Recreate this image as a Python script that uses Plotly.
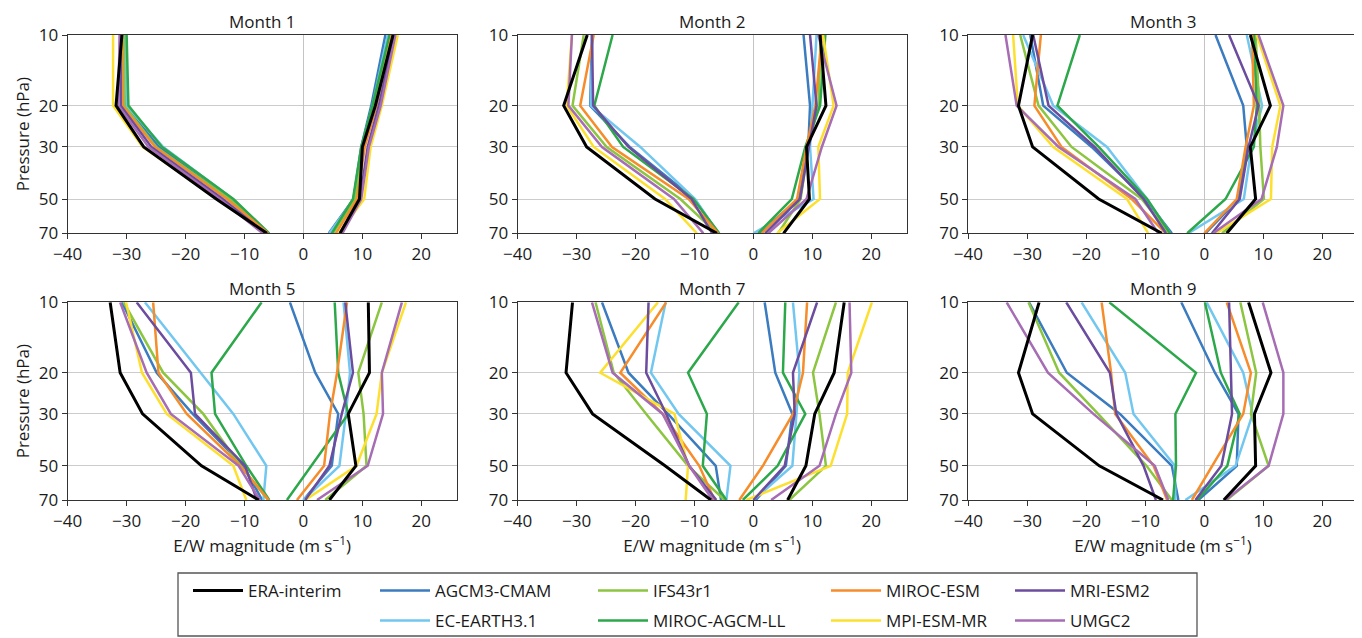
import plotly.graph_objects as go
from plotly.subplots import make_subplots
import math

# ---------------- data ----------------
months = ["Month 1", "Month 2", "Month 3", "Month 5", "Month 7", "Month 9"]
pressure = [10, 20, 30, 50, 70]
models = ["ERA-interim", "AGCM3-CMAM", "EC-EARTH3.1", "IFS43r1", "MIROC-AGCM-LL",
          "MIROC-ESM", "MPI-ESM-MR", "MRI-ESM2", "UMGC2"]
colors = ["#000000", "#3b7bbf", "#72c7f0", "#8cc540", "#2ca84b",
          "#f68c2a", "#fde02e", "#6b4c9e", "#a66cb4"]

# easterly (negative) magnitudes, one row per month, values at 10,20,30,50,70 hPa
ERA_E = [[-30.8, -31.8, -27.1, -14.8, -6.2], [-28.2, -32.2, -28.3, -16.7, -6.2],
         [-29.1, -31.5, -29.1, -17.9, -7.2], [-32.8, -31.1, -27.3, -17.3, -7.6],
         [-30.7, -31.8, -27.3, -15.0, -7.2], [-28.0, -31.5, -29.1, -17.8, -7.0]]
AGCM_E = [[-30.4, -30.3, -24.5, -12.3, -6.0], [-27.4, -27.7, -21.0, -10.0, -6.0],
          [-29.5, -27.3, -19.1, -10.0, -5.5], [-30.8, -24.9, -18.8, -10.2, -7.0],
          [-25.7, -21.2, -14.5, -6.4, -5.5], [-29.7, -23.3, -14.3, -5.5, -4.4]]
ECE_E = [[-30.3, -30.0, -23.8, -12.0, -5.9], [-27.3, -27.6, -19.2, -9.9, -6.0],
         [-30.7, -25.6, -16.5, -9.7, -5.8], [-26.9, -17.5, -11.9, -6.3, -6.8],
         [-14.9, -17.4, -12.7, -3.9, -4.6], [-20.8, -13.4, -12.0, -5.0, -4.9]]
IFS_E = [[-30.5, -30.4, -25.0, -12.6, -6.1], [-28.8, -30.7, -24.9, -12.4, -6.2],
         [-31.2, -28.1, -22.5, -10.6, -6.0], [-30.5, -23.8, -17.0, -10.7, -6.0],
         [-26.8, -23.7, -18.2, -11.1, -4.9], [-29.8, -24.6, -18.0, -9.8, -5.5]]
MAGCM_E = [[-30.0, -29.7, -24.0, -11.9, -5.8], [-23.9, -27.0, -22.1, -10.2, -5.8],
           [-21.1, -24.9, -17.9, -9.7, -5.8], [-7.1, -15.6, -15.0, -9.7, -5.8],
           [-2.5, -11.1, -7.9, -8.6, -4.6], [-16.1, -1.4, -4.9, -4.8, -5.3]]
MESM_E = [[-30.8, -30.7, -25.2, -13.0, -6.0], [-27.1, -29.4, -24.0, -11.0, -6.0],
          [-27.7, -28.8, -24.2, -12.3, -6.5], [-25.5, -24.6, -19.8, -10.7, -5.9],
          [-14.8, -22.6, -15.4, -9.2, -6.6], [-17.4, -15.8, -15.1, -8.6, -6.3]]
MPI_E = [[-32.3, -32.3, -27.3, -14.5, -6.3], [-30.8, -31.7, -27.1, -15.0, -9.6],
         [-32.4, -31.6, -25.6, -13.1, -9.5], [-30.1, -27.4, -23.2, -11.9, -9.7],
         [-16.2, -26.0, -13.4, -11.1, -11.5], None]
MRI_E = [[-31.0, -31.0, -25.8, -13.7, -6.5], [-27.4, -27.2, -21.2, -10.5, -7.0],
         [-29.0, -26.4, -18.6, -10.3, -6.5], [-28.3, -19.1, -18.4, -9.9, -7.9],
         [-17.8, -18.2, -14.8, -10.9, -6.3], [-23.4, -16.0, -14.9, -10.3, -8.2]]
UMGC_E = [[-31.2, -31.4, -26.3, -14.2, -6.9], [-30.8, -31.4, -25.7, -13.5, -8.5],
          [-33.7, -31.8, -24.7, -11.7, -7.8], [-31.1, -26.6, -22.5, -11.0, -7.4],
          [-27.4, -23.9, -15.4, -10.9, -6.9], [-33.5, -26.5, -18.8, -8.4, -6.1]]

# westerly (positive) magnitudes
ERA_W = [[15.2, 12.2, 10.0, 9.5, 6.2], [11.3, 12.3, 9.0, 9.5, 5.1],
         [7.8, 11.2, 7.8, 8.7, 3.8], [11.0, 11.2, 7.6, 8.9, 4.4],
         [15.4, 13.7, 10.4, 8.9, 5.8], [7.5, 11.3, 8.5, 8.7, 3.3]]
AGCM_W = [[13.9, 11.5, 9.8, 8.5, 4.3], [8.5, 9.6, 9.3, 7.7, 1.0],
          [1.9, 6.6, 7.2, 5.8, 0.2], [-2.3, 2.0, 5.9, 4.8, 0.0],
          [1.9, 3.7, 6.6, 5.5, 0.4], [-3.9, 1.8, 5.8, 5.5, -1.0]]
ECE_W = [[14.3, 11.7, 9.9, 8.6, 4.4], [10.7, 10.0, 9.6, 10.2, 0.0],
         [7.2, 9.8, 8.0, 6.7, -2.7], [6.8, 7.9, 7.2, 6.1, 0.0],
         [6.7, 7.8, 7.3, 6.6, 0.0], [0.4, 6.6, 8.2, 5.3, -3.2]]
IFS_W = [[14.8, 12.0, 10.2, 8.8, 5.0], [11.5, 11.0, 9.3, 8.0, 4.2],
         [8.7, 9.3, 9.5, 10.1, 3.0], [13.3, 9.3, 10.2, 10.7, 3.7],
         [14.0, 10.1, 11.2, 12.3, 6.1], [6.1, 8.8, 7.9, 10.9, 3.8]]
MAGCM_W = [[14.6, 11.7, 9.8, 8.4, 4.8], [12.2, 11.3, 8.8, 6.5, 0.8],
           [8.4, 8.9, 8.4, 3.6, -2.9], [5.3, 5.9, 7.6, 1.4, -2.8],
           [5.4, 5.0, 8.8, 4.1, -1.8], [0.1, 2.8, 6.0, 3.9, -1.2]]
MESM_W = [[15.0, 12.4, 10.4, 9.1, 5.5], [11.6, 10.5, 9.0, 7.4, 1.4],
          [8.1, 8.4, 7.0, 5.5, 0.0], [7.4, 5.7, 4.5, 3.5, -1.1],
          [9.1, 8.4, 6.7, 1.6, -2.4], [3.8, 7.9, 6.6, 1.4, -2.1]]
MPI_W = [[16.0, 13.3, 11.4, 10.3, 6.0], [11.8, 13.6, 11.0, 11.3, 4.0],
         [8.9, 12.9, 11.5, 11.3, 2.0], [17.4, 13.3, 12.4, 9.0, 0.3],
         [20.1, 16.0, 15.9, 13.1, -1.2], None]
MRI_W = [[15.4, 12.8, 10.9, 9.6, 6.3], [9.6, 10.7, 9.4, 7.9, 2.0],
         [4.2, 9.2, 7.5, 6.0, 1.3], [7.1, 8.4, 6.5, 4.4, 0.3],
         [10.8, 6.7, 7.0, 5.3, 0.0], [4.2, 4.5, 4.7, 2.9, -1.5]]
UMGC_W = [[15.6, 13.1, 11.1, 9.8, 6.6], [11.0, 14.1, 11.6, 9.0, 2.5],
          [9.2, 13.4, 12.3, 9.7, 1.5], [16.7, 13.3, 13.5, 10.9, 2.3],
          [16.3, 16.6, 14.0, 11.2, 3.0], [9.9, 13.4, 13.4, 10.9, 3.6]]

east = [ERA_E, AGCM_E, ECE_E, IFS_E, MAGCM_E, MESM_E, MPI_E, MRI_E, UMGC_E]
west = [ERA_W, AGCM_W, ECE_W, IFS_W, MAGCM_W, MESM_W, MPI_W, MRI_W, UMGC_W]

x_ticks = [-40, -30, -20, -10, 0, 10, 20]
y_ticks = [10, 20, 30, 50, 70]

# ---------------- layout geometry (page pixels) ----------------
OFF = 8                      # default page body margin
W, H = 1362 - OFF, 638 - OFF
col_px = [(67.7, 456.7), (517.7, 906.7), (968.3, 1357.7)]
row_px = [(35.0, 233.3), (302.3, 500.0)]


def px(x):
    return (x - OFF) / W


def py(y):
    return 1 - (y - OFF) / H


# legend: (legend id, text x px, y px) for each model
legend_pos = [("legend", 250, 591), ("legend2", 437, 591), ("legend3", 437, 621),
              ("legend4", 655, 591), ("legend5", 655, 621), ("legend6", 888, 591),
              ("legend7", 888, 621), ("legend8", 1072, 591), ("legend9", 1072, 621)]
ITEMW = 50

FONT = "Open Sans"
TXT = "#1a1a1a"
fig = make_subplots(rows=2, cols=3)

draw_order = [1, 2, 3, 4, 5, 6, 7, 8, 0]
for mi in draw_order:
    first = True
    for k in range(6):
        r, c = k // 3 + 1, k % 3 + 1
        for series in (east[mi], west[mi]):
            vals = series[k]
            if vals is None:
                continue
            fig.add_trace(go.Scatter(
                x=vals, y=pressure, mode="lines", name=models[mi],
                line=dict(color=colors[mi], width=3 if mi == 0 else 2.5),
                showlegend=first, legend=legend_pos[mi][0], hoverinfo="skip"),
                row=r, col=c)
            first = False

for k in range(6):
    r, c = k // 3, k % 3
    idx = "" if k == 0 else str(k + 1)
    x0, x1 = col_px[c]
    y0, y1 = row_px[r]
    xa = dict(
        domain=[px(x0), px(x1)], range=[-40, 26], tickvals=x_ticks,
        showgrid=False, zeroline=True, zerolinecolor="#c4c4c4", zerolinewidth=1.3,
        showline=True, mirror=True, linecolor="#333333", linewidth=1.3,
        ticks="outside", ticklen=5, tickcolor="#333333", automargin=False,
        tickfont=dict(family=FONT, size=17, color=TXT))
    if r == 1:
        xa["title"] = dict(text="E/W magnitude (m s<sup>−1</sup>)",
                           font=dict(family=FONT, size=17, color=TXT), standoff=4)
    ya = dict(
        domain=[py(y1), py(y0)], type="log",
        range=[math.log10(70), math.log10(10)], tickvals=y_ticks,
        showgrid=True, gridcolor="#cccccc", gridwidth=1.3,
        showline=True, mirror=True, linecolor="#333333", linewidth=1.3,
        ticks="outside", ticklen=5, tickcolor="#333333", automargin=False,
        tickfont=dict(family=FONT, size=17, color=TXT))
    if c == 0:
        ya["title"] = dict(text="Pressure (hPa)",
                           font=dict(family=FONT, size=17, color=TXT), standoff=4)
    fig.layout["xaxis" + idx].update(xa)
    fig.layout["yaxis" + idx].update(ya)
    fig.add_annotation(text=months[k], xref="paper", yref="paper",
                       x=px((x0 + x1) / 2), y=py(y0 - 14),
                       xanchor="center", yanchor="middle", showarrow=False,
                       borderpad=0,
                       font=dict(family=FONT, size=17, color=TXT))

legend_layout = {}
for lid, tx, ty in legend_pos:
    legend_layout[lid] = dict(
        x=px(tx - ITEMW - 12), y=py(ty), xanchor="left", yanchor="middle",
        bgcolor="rgba(0,0,0,0)", borderwidth=0, itemwidth=ITEMW,
        font=dict(family=FONT, size=17, color=TXT))
fig.update_layout(**legend_layout)

fig.add_shape(type="rect", xref="paper", yref="paper",
              x0=px(178), x1=px(1197), y0=py(636), y1=py(573),
              line=dict(color="#555555", width=1.3), fillcolor="rgba(0,0,0,0)")

fig.update_layout(width=W, height=H,
                  margin=dict(l=0, r=0, t=0, b=0, autoexpand=False),
                  plot_bgcolor="white", paper_bgcolor="white",
                  font=dict(family=FONT, size=16, color=TXT))

fig.write_html("out.html")
